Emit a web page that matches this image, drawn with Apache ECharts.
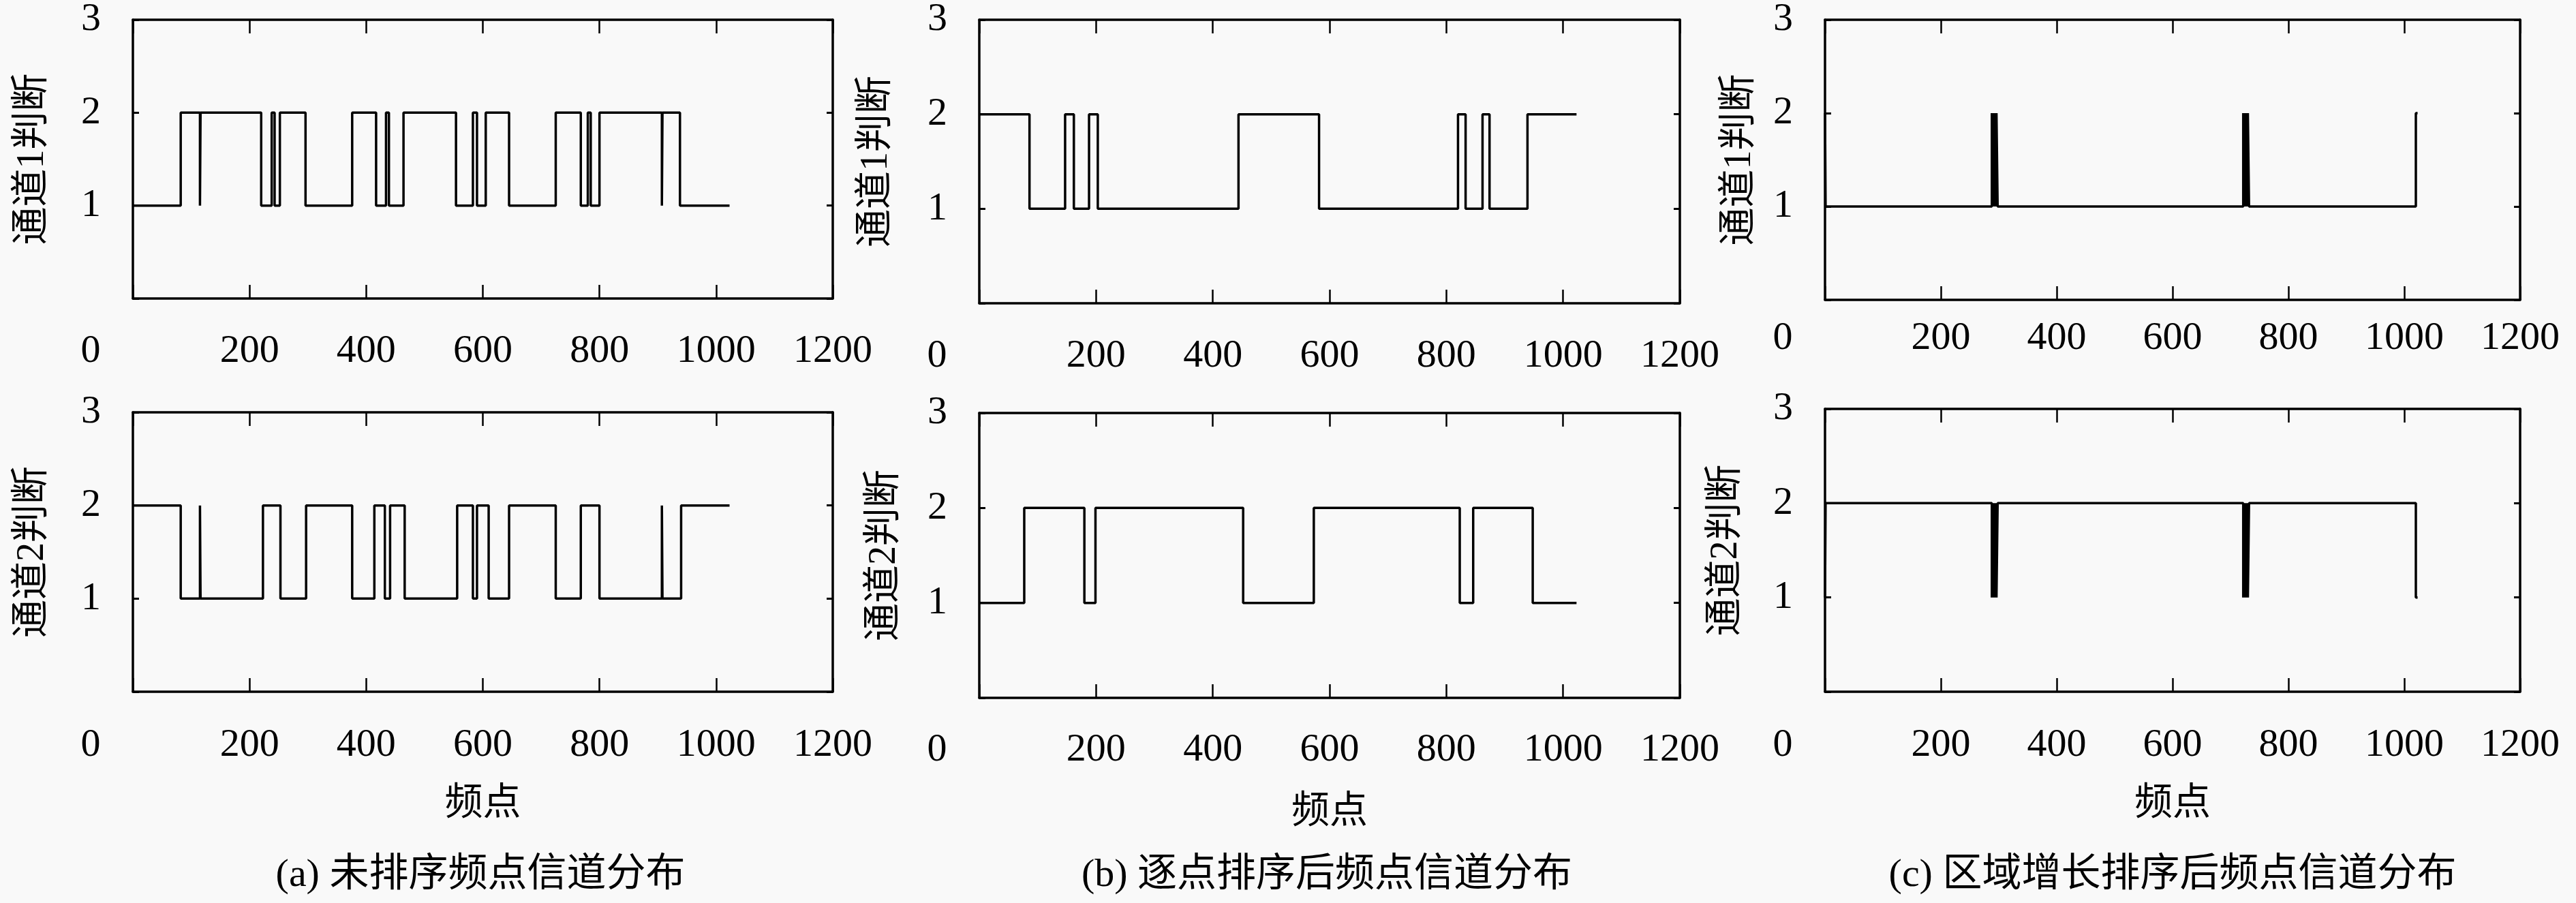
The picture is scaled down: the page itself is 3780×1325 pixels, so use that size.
<!DOCTYPE html>
<html><head><meta charset="utf-8">
<script src="https://cdn.jsdelivr.net/npm/echarts@6/dist/echarts.min.js"></script>
<style>html,body{margin:0;padding:0;background:#f9f9f9}#c{width:3780px;height:1325px}</style>
</head><body><div id="c"></div>
<script>
// ---- data: transition frequencies (x) and channel decision levels (y), step-wise ----
const a1X = [0, 82, 115, 116, 220, 238, 243, 252, 296, 376, 417, 434, 439, 464, 554, 583, 590, 605, 645, 725, 768, 780, 785, 800, 907, 908, 938, 1023];
const a1Y = [1, 2, 1, 2, 1, 2, 1, 2, 1, 2, 1, 2, 1, 2, 1, 2, 1, 2, 1, 2, 1, 2, 1, 2, 1, 2, 1, 1];
const a2X = [0, 82, 115, 116, 223, 253, 297, 376, 414, 432, 441, 466, 556, 583, 590, 610, 645, 725, 768, 800, 907, 908, 940, 1023];
const a2Y = [2, 1, 2, 1, 2, 1, 2, 1, 2, 1, 2, 1, 2, 1, 2, 1, 2, 1, 2, 1, 2, 1, 2, 2];
const b1X = [0, 86, 147, 162, 188, 203, 444, 582, 820, 833, 862, 874, 939, 1023];
const b1Y = [2, 1, 2, 1, 2, 1, 2, 1, 2, 1, 2, 1, 2, 2];
const b2X = [0, 77, 180, 199, 452, 573, 823, 846, 948, 1023];
const b2Y = [1, 2, 1, 2, 1, 2, 1, 2, 1, 1];
const c1X = [0, 1, 288, 290, 292, 294, 296, 298, 722, 724, 726, 728, 730, 732, 1020, 1023];
const c1Y = [2, 1, 2, 1, 2, 1, 2, 1, 2, 1, 2, 1, 2, 1, 2, 2];
const c2X = [0, 1, 288, 290, 292, 294, 296, 298, 722, 724, 726, 728, 730, 732, 1020, 1023];
const c2Y = [1, 2, 1, 2, 1, 2, 1, 2, 1, 2, 1, 2, 1, 2, 1, 1];

const xTicks = [0, 200, 400, 600, 800, 1000, 1200];
const yTicks = [0, 1, 2, 3];
const yNames = ['通道1判断', '通道2判断'];
const xName = '频点';
const captions = ['(a) 未排序频点信道分布', '(b) 逐点排序后频点信道分布', '(c) 区域增长排序后频点信道分布'];

const SERIF = '"Liberation Serif", "DejaVu Serif", serif';
const CJK = '"Liberation Serif", "Noto Sans CJK SC", sans-serif';

// layout of the six sub-plots
const panels = [
  {x: a1X, y: a1Y, left: 195,  top: 26,  width: 1027, height: 412, yName: yNames[0], yGap: 119, xm: 49, xName: ''},
  {x: a2X, y: a2Y, left: 195,  top: 605, width: 1027, height: 410, yName: yNames[1], yGap: 119, xm: 50, xName: xName, xGap: 137},
  {x: b1X, y: b1Y, left: 1437, top: 26,  width: 1028, height: 419, yName: yNames[0], yGap: 123, xm: 49, xName: ''},
  {x: b2X, y: b2Y, left: 1437, top: 606, width: 1028, height: 418, yName: yNames[1], yGap: 111, xm: 48, xName: xName, xGap: 140},
  {x: c1X, y: c1Y, left: 2678, top: 26,  width: 1020, height: 414, yName: yNames[0], yGap: 97,  xm: 28, xName: ''},
  {x: c2X, y: c2Y, left: 2678, top: 600, width: 1020, height: 415, yName: yNames[1], yGap: 117, xm: 50, xName: xName, xGap: 137}
];

const grids = [], xAxes = [], yAxes = [], series = [];
const lineCol = '#000';
panels.forEach((p, i) => {
  grids.push({left: p.left, top: p.top, width: p.width, height: p.height, containLabel: false});
  const xBase = {
    gridIndex: i, type: 'value', min: xTicks[0], max: xTicks[xTicks.length - 1], interval: xTicks[1] - xTicks[0],
    axisLine: {show: true, onZero: false, lineStyle: {color: lineCol, width: 3.5}},
    axisTick: {show: true, inside: true, length: 20, lineStyle: {color: lineCol, width: 2.5}},
    splitLine: {show: false}
  };
  xAxes.push(Object.assign({}, xBase, {
    position: 'bottom',
    axisLabel: {
      margin: p.xm, color: '#000', fontFamily: SERIF, fontSize: 58,
      formatter: v => v === 0 ? '{z|0}' : String(v),
      rich: {z: {padding: [0, 124, 0, 0], fontFamily: SERIF, fontSize: 58, color: '#000'}}
    },
    name: p.xName, nameLocation: 'middle', nameGap: p.xGap || 0,
    nameTextStyle: {fontFamily: CJK, fontSize: 56, color: '#000'}
  }));
  xAxes.push(Object.assign({}, xBase, {position: 'top', axisLabel: {show: false}}));
  const yBase = {
    gridIndex: i, type: 'value', min: yTicks[0], max: yTicks[yTicks.length - 1], interval: 1,
    axisLine: {show: true, onZero: false, lineStyle: {color: lineCol, width: 3.5}},
    axisTick: {show: true, inside: true, length: 9, lineStyle: {color: lineCol, width: 3}},
    splitLine: {show: false}
  };
  yAxes.push(Object.assign({}, yBase, {
    position: 'left',
    axisLabel: {margin: 47, color: '#000', fontFamily: SERIF, fontSize: 58,
      formatter: v => v === 0 ? '' : String(v)},
    name: p.yName, nameLocation: 'middle', nameRotate: 90, nameGap: p.yGap,
    nameTextStyle: {fontFamily: CJK, fontSize: 56, color: '#000'}
  }));
  yAxes.push(Object.assign({}, yBase, {position: 'right', axisLabel: {show: false}}));
  series.push({
    type: 'line', step: 'end', xAxisIndex: 2 * i, yAxisIndex: 2 * i,
    data: p.x.map((x, k) => [x, p.y[k]]),
    showSymbol: false, symbol: 'none', animation: false,
    lineStyle: {color: lineCol, width: 3.5}
  });
});

const capX = [705, 1947, 3188];
const graphic = captions.map((t, i) => ({
  type: 'text', x: capX[i], y: 1285,
  style: {text: t, align: 'center', verticalAlign: 'middle', fontFamily: CJK, fontSize: 58, fill: '#000'}
}));

const chart = echarts.init(document.getElementById('c'), null, {renderer: 'canvas'});
chart.setOption({
  backgroundColor: '#f9f9f9',
  animation: false,
  grid: grids, xAxis: xAxes, yAxis: yAxes, series: series, graphic: graphic
});
</script></body></html>
